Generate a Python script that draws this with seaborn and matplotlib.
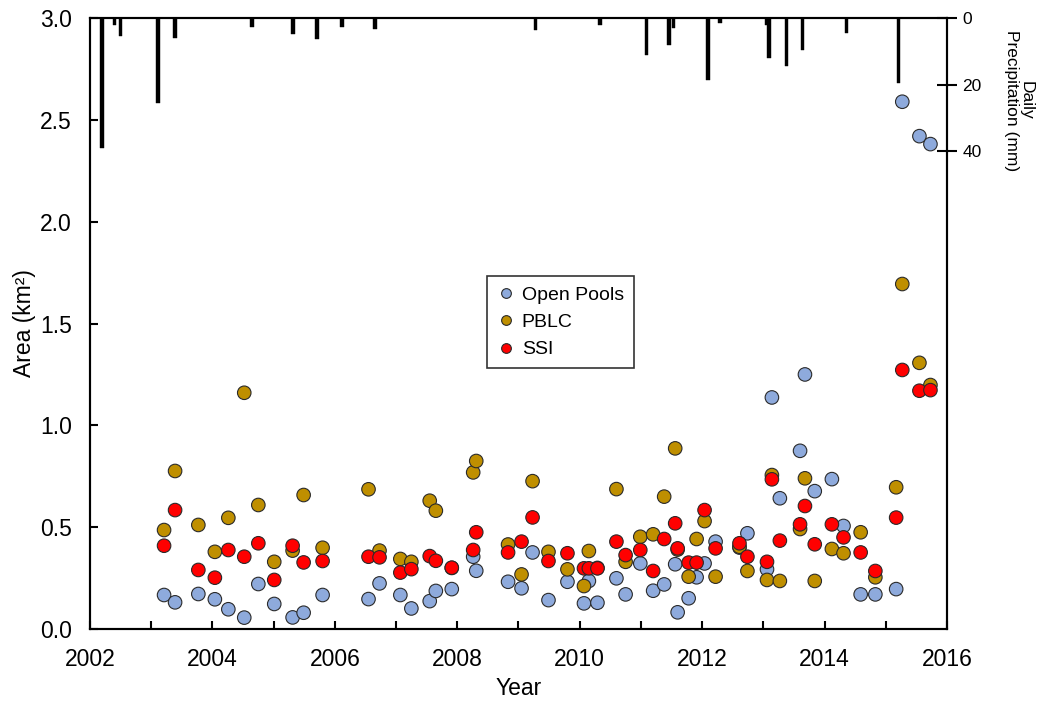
import numpy as np
import pandas as pd
import matplotlib
matplotlib.use("Agg")
import matplotlib.pyplot as plt
import seaborn as sns

# ---------------- data ----------------
dates = [2003.21, 2003.39, 2003.77, 2004.04, 2004.26, 2004.52, 2004.75, 2005.01,
         2005.31, 2005.49, 2005.80, 2006.55, 2006.73, 2007.07, 2007.25, 2007.55,
         2007.65, 2007.91, 2008.26, 2008.31, 2008.83, 2009.05, 2009.23, 2009.49,
         2009.80, 2010.07, 2010.15, 2010.29, 2010.60, 2010.75, 2010.99, 2011.20,
         2011.38, 2011.56, 2011.60, 2011.78, 2011.91, 2012.04, 2012.22, 2012.61,
         2012.74, 2013.06, 2013.14, 2013.27, 2013.60, 2013.68, 2013.84, 2014.12,
         2014.31, 2014.59, 2014.83, 2015.17, 2015.27, 2015.55, 2015.73]

open_pools = [0.167, 0.131, 0.172, 0.146, 0.097, 0.056, 0.221, 0.123,
              0.057, 0.080, 0.167, 0.147, 0.224, 0.167, 0.101, 0.137,
              0.187, 0.196, 0.355, 0.286, 0.232, 0.200, 0.376, 0.142,
              0.232, 0.126, 0.236, 0.129, 0.249, 0.170, 0.322, 0.188,
              0.219, 0.318, 0.082, 0.151, 0.254, 0.322, 0.429, 0.400,
              0.470, 0.293, 1.137, 0.642, 0.875, 1.250, 0.677, 0.736,
              0.506, 0.170, 0.170, 0.196, 2.589, 2.420, 2.381]

pblc = [0.486, 0.776, 0.511, 0.379, 0.546, 1.160, 0.609, 0.330,
        0.385, 0.658, 0.399, 0.686, 0.385, 0.344, 0.330, 0.630,
        0.581, 0.300, 0.769, 0.825, 0.415, 0.268, 0.726, 0.379,
        0.293, 0.211, 0.383, 0.300, 0.687, 0.330, 0.453, 0.465,
        0.650, 0.887, 0.390, 0.257, 0.442, 0.530, 0.257, 0.404,
        0.285, 0.241, 0.756, 0.236, 0.491, 0.740, 0.236, 0.393,
        0.372, 0.475, 0.254, 0.696, 1.694, 1.307, 1.198]

ssi = [0.409, 0.584, 0.290, 0.252, 0.388, 0.355, 0.421, 0.241,
       0.409, 0.327, 0.334, 0.355, 0.352, 0.277, 0.294, 0.358,
       0.335, 0.301, 0.388, 0.475, 0.376, 0.429, 0.548, 0.334,
       0.372, 0.298, 0.298, 0.298, 0.429, 0.363, 0.388, 0.285,
       0.442, 0.519, 0.396, 0.326, 0.326, 0.584, 0.396, 0.421,
       0.355, 0.330, 0.735, 0.434, 0.514, 0.604, 0.416, 0.514,
       0.450, 0.376, 0.285, 0.547, 1.272, 1.170, 1.173]

series_names = ["Open Pools", "PBLC", "SSI"]
series_colors = ["#8eaadc", "#bf8f00", "#ff0000"]

precip_dates = [2002.20, 2002.40, 2002.50, 2003.11, 2003.39, 2004.65, 2005.32,
                2005.71, 2006.12, 2006.66, 2009.28, 2010.33, 2011.09, 2011.46,
                2011.53, 2012.10, 2012.29, 2013.05, 2013.09, 2013.38, 2013.64,
                2014.36, 2015.21]
precip_mm = [39.0, 2.0, 5.4, 25.6, 6.0, 2.6, 4.9,
             6.3, 2.8, 3.3, 3.6, 2.1, 11.0, 8.0,
             3.0, 18.6, 1.5, 2.0, 12.0, 14.3, 9.6,
             4.6, 19.4]

year_ticks = list(range(2002, 2017))
area_ticks = [0.0, 0.5, 1.0, 1.5, 2.0, 2.5, 3.0]
precip_ticks = [0, 20, 40]

# ---------------- style ----------------
sns.set_style("ticks")
plt.rcParams["font.family"] = ["Liberation Sans", "DejaVu Sans"]
plt.rcParams.update({
    "text.color": "black",
    "axes.labelcolor": "black",
    "xtick.color": "black",
    "ytick.color": "black",
    "axes.edgecolor": "black",
})

df = pd.DataFrame({
    "Year": dates * 3,
    "Area": open_pools + pblc + ssi,
    "Series": [series_names[0]] * len(dates) + [series_names[1]] * len(dates)
              + [series_names[2]] * len(dates),
})

fig = plt.figure(figsize=(10.38, 7.07), dpi=100)
ax = fig.add_axes([0.0867, 0.1103, 0.8256, 0.8642])
ax2 = ax.twinx()

# precipitation bars hanging from the top
ax2.bar(precip_dates, precip_mm, width=0.06, color="black",
        edgecolor="black", linewidth=0.3)
ax2.set_ylim(183.8, 0)
ax2.set_yticks(precip_ticks)
ax2.set_yticklabels([str(t) for t in precip_ticks])
ax2.tick_params(axis="y", direction="inout", length=14, width=1.5,
                labelsize=12.5, pad=4, colors="black")
ax2.set_ylabel("Daily\nPrecipitation (mm)", rotation=270, fontsize=12.5,
               linespacing=0.95, va="center", ha="center", color="black")
ax2.yaxis.set_label_coords(1.084, 0.865)
ax2.set_xlabel("")

# scatter points
ax.set_zorder(ax2.get_zorder() + 1)
ax.patch.set_visible(False)
sns.scatterplot(data=df, x="Year", y="Area", hue="Series",
                hue_order=series_names, palette=series_colors,
                s=95, edgecolor="#2a2a2a", linewidth=0.8, alpha=1,
                ax=ax, legend=True)

ax.set_xlim(2002, 2016)
ax.set_ylim(0, 3.0)
ax2.set_xlim(2002, 2016)
ax.set_xticks(year_ticks)
ax.set_xticklabels([str(y) if y % 2 == 0 else "" for y in year_ticks])
ax.set_yticks(area_ticks)
ax.set_yticklabels([f"{v:.1f}" for v in area_ticks])
ax.tick_params(axis="both", direction="in", length=6, width=1.5,
               labelsize=16.5, colors="black")
ax.tick_params(axis="x", pad=14)
ax.tick_params(axis="y", pad=13, right=False)
ax.set_xlabel("Year", fontsize=16.5, labelpad=4, color="black")
ax.set_ylabel("Area (km²)", fontsize=16.5, labelpad=3, color="black")

for a in (ax, ax2):
    for sp in a.spines.values():
        sp.set_visible(True)
        sp.set_linewidth(1.5)
        sp.set_color("black")

# legend
old = ax.get_legend()
handles = old.legend_handles
labels = [t.get_text() for t in old.get_texts()]
old.remove()
for h in handles:
    h.set_markersize(7)
    h.set_markeredgewidth(0.8)
    h.set_markeredgecolor("#2a2a2a")
leg = ax.legend(handles, labels, loc="upper left",
                bbox_to_anchor=(0.463, 0.577), frameon=True, fancybox=False,
                edgecolor="black", fontsize=14, handletextpad=0.3,
                handlelength=1.0, borderpad=0.5, labelspacing=0.5,
                borderaxespad=0, labelcolor="black")
leg.get_frame().set_linewidth(1.2)

fig.savefig("out.png", dpi=100)
